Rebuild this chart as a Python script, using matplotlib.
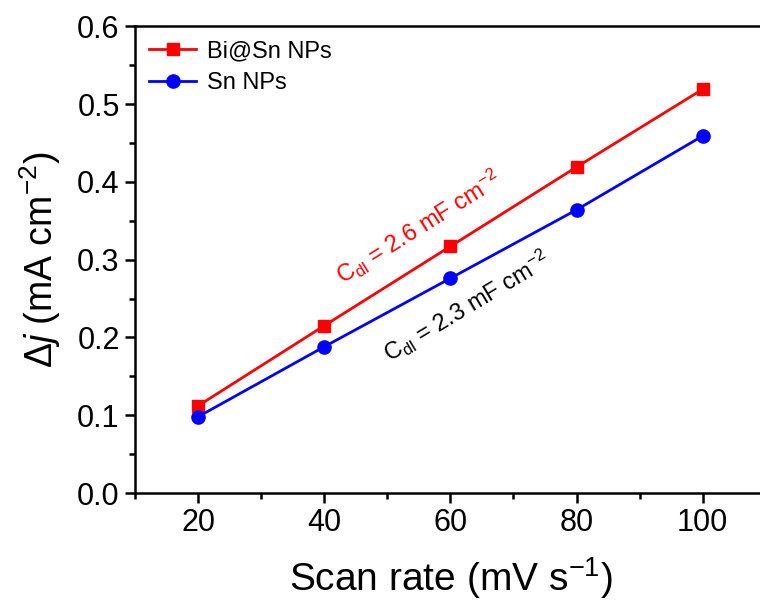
import matplotlib
matplotlib.use('Agg')
import matplotlib.pyplot as plt
from matplotlib.ticker import MultipleLocator, FormatStrFormatter

plt.rcParams['font.family'] = ['Liberation Sans', 'DejaVu Sans']
plt.rcParams['mathtext.fontset'] = 'custom'
plt.rcParams['mathtext.rm'] = 'Liberation Sans'
plt.rcParams['mathtext.it'] = 'Liberation Sans:italic'
plt.rcParams['mathtext.default'] = 'regular'

scan_rate = [20, 40, 60, 80, 100]
bisn_j = [0.112, 0.215, 0.317, 0.419, 0.519]
sn_j = [0.098, 0.188, 0.276, 0.364, 0.459]

bisn_label = 'Bi@Sn NPs'
sn_label = 'Sn NPs'
bisn_note = r'C$_{dl}$ = 2.6 mF cm$^{-2}$'
sn_note = r'C$_{dl}$ = 2.3 mF cm$^{-2}$'

fig = plt.figure(figsize=(7.6, 6.07), dpi=100)
ax = fig.add_axes([0.1776, 0.1878, 0.830, 0.769])

ax.plot(scan_rate, bisn_j, color='#ff0000', lw=2.0, marker='s', ms=8.5, label=bisn_label)
ax.plot(scan_rate, sn_j, color='#0000ff', lw=2.0, marker='o', ms=9.5, label=sn_label)

ax.set_xlim(10, 110)
ax.set_ylim(0, 0.6)
ax.xaxis.set_major_locator(MultipleLocator(20))
ax.xaxis.set_minor_locator(MultipleLocator(10))
ax.yaxis.set_major_locator(MultipleLocator(0.1))
ax.yaxis.set_minor_locator(MultipleLocator(0.05))
ax.yaxis.set_major_formatter(FormatStrFormatter('%.1f'))

for side in ax.spines.values():
    side.set_linewidth(1.8)
ax.tick_params(which='major', direction='out', length=7, width=1.8, labelsize=22, pad=4)
ax.tick_params(which='minor', direction='out', length=4, width=1.8)

ax.set_xlabel('Scan rate (mV s$^{-1}$)', fontsize=28, labelpad=12)
ax.set_ylabel(r'$\mathit{\Delta j}$ (mA cm$^{-2}$)', fontsize=27, labelpad=10)

ax.text(54.9, 0.342, bisn_note, color='#ff0000', fontsize=17, rotation=32,
        ha='center', va='center', rotation_mode='anchor')
ax.text(62.6, 0.239, sn_note, color='black', fontsize=17, rotation=31,
        ha='center', va='center', rotation_mode='anchor')

ax.legend(loc='upper left', frameon=False, fontsize=17, handlelength=2.0,
          handletextpad=0.45, labelspacing=0.4, borderaxespad=0.2)

fig.savefig('out.png', dpi=100)
